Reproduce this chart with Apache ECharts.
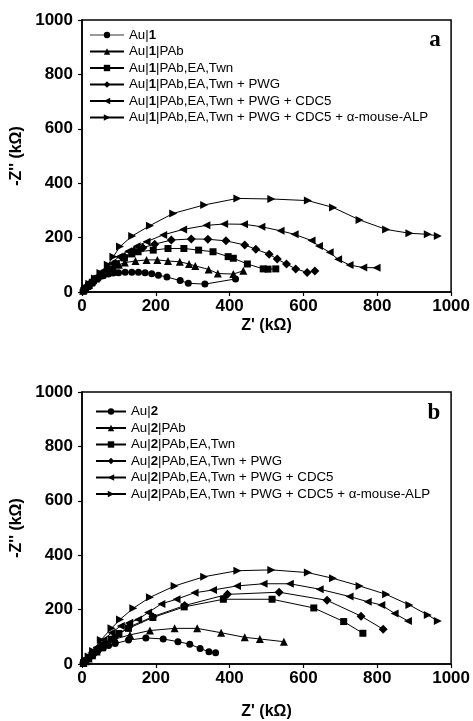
<!DOCTYPE html>
<html><head><meta charset="utf-8">
<script src="https://cdn.jsdelivr.net/npm/echarts@6/dist/echarts.min.js"></script>
<style>html,body{margin:0;padding:0;background:#fff}#c{width:473px;height:721px}</style>
</head><body><div id="c"></div>
<script>
// Axis settings (kΩ)
const axisMin = 0, axisMax = 1000, tickStep = 200;
const xTitle = "Z' (kΩ)";
const yTitle = "-Z'' (kΩ)";

// Legend names
const namesA = ["Au|1", "Au|1|PAb", "Au|1|PAb,EA,Twn", "Au|1|PAb,EA,Twn + PWG",
  "Au|1|PAb,EA,Twn + PWG + CDC5", "Au|1|PAb,EA,Twn + PWG + CDC5 + α-mouse-ALP"];
const namesB = ["Au|2", "Au|2|PAb", "Au|2|PAb,EA,Twn", "Au|2|PAb,EA,Twn + PWG",
  "Au|2|PAb,EA,Twn + PWG + CDC5", "Au|2|PAb,EA,Twn + PWG + CDC5 + α-mouse-ALP"];

// Panel a: [Z', -Z'']
const a1 = [[3,3],[6,8],[10,14],[16,22],[24,32],[33,42],[45,52],[58,60],[72,66],[85,70],[99,71],[117,73],[135,73],[153,73],[171,71],[189,67],[207,62],[230,55],[266,42],[288,32],[333,29],[416,48]];
const a2 = [[3,5],[8,12],[15,22],[25,35],[38,50],[52,65],[68,80],[85,92],[100,100],[116,108],[145,114],[175,118],[204,118],[233,114],[265,111],[290,103],[307,96],[343,83],[368,68],[410,66],[437,78]];
const a3 = [[5,6],[10,14],[18,24],[28,36],[40,50],[55,66],[72,84],[92,104],[115,125],[135,140],[152,148],[193,154],[233,160],[276,160],[316,154],[355,148],[396,130],[410,124],[448,103],[491,85],[504,84],[525,85]];
const a4 = [[5,8],[12,18],[22,30],[35,45],[50,62],[68,82],[90,105],[115,130],[140,150],[165,163],[197,176],[242,191],[296,195],[341,194],[390,188],[441,173],[471,157],[507,139],[529,121],[554,103],[579,85],[610,72],[631,77]];
const a5 = [[8,12],[18,25],[30,42],[45,60],[60,80],[80,105],[100,130],[125,150],[148,168],[175,185],[220,210],[274,230],[337,245],[385,250],[439,249],[486,240],[538,225],[576,212],[622,189],[642,169],[671,146],[694,120],[725,99],[762,90],[798,89]];
const a6 = [[10,15],[20,30],[35,50],[50,70],[70,100],[85,130],[103,167],[136,206],[184,244],[247,289],[331,320],[421,344],[513,342],[612,336],[680,311],[752,265],[824,230],[887,216],[937,212],[964,206]];

// Panel b: [Z', -Z'']
const b1 = [[3,3],[7,8],[12,15],[20,25],[30,36],[42,48],[58,60],[72,68],[90,75],[126,88],[173,96],[220,92],[260,82],[292,73],[320,57],[344,45],[362,41]];
const b2 = [[4,4],[10,10],[18,20],[28,32],[40,46],[55,62],[72,78],[90,92],[130,107],[184,123],[251,131],[312,131],[377,115],[441,98],[482,92],[547,82]];
const b3 = [[4,5],[10,12],[18,22],[28,35],[40,50],[55,68],[79,91],[100,112],[126,131],[192,171],[277,210],[383,238],[515,238],[628,206],[709,156],[761,113]];
const b4 = [[5,6],[12,14],[22,26],[35,40],[50,58],[65,75],[88,98],[126,135],[192,174],[278,215],[394,256],[534,264],[664,234],[756,176],[816,128]];
const b5 = [[6,10],[14,22],[25,40],[40,62],[58,88],[80,115],[105,140],[128,152],[152,164],[179,189],[215,221],[256,238],[305,262],[355,272],[420,287],[492,295],[563,295],[644,275],[725,248],[774,229],[811,217],[847,186],[883,158]];
const b6 = [[8,12],[18,28],[30,48],[51,88],[80,131],[103,164],[139,205],[184,245],[251,287],[331,321],[421,343],[513,346],[612,336],[680,315],[752,287],[824,256],[887,217],[937,180],[964,158]];

const SANS = '"Liberation Sans", Arial, sans-serif';
const symbols = [
  ['circle', 7],
  ['triangle', 8],
  ['rect', 7],
  ['diamond', 9],
  ['path://M10,0L0,5L10,10Z', 8],
  ['path://M0,0L10,5L0,10Z', 8]
];

function mkSeries(names, datas, gi) {
  return datas.map((d, i) => ({
    name: names[i], type: 'line', xAxisIndex: gi, yAxisIndex: gi,
    data: d, symbol: symbols[i][0], symbolSize: symbols[i][1],
    showSymbol: true, animation: false, silent: true,
    lineStyle: { color: '#000', width: 1 },
    itemStyle: { color: '#000' }
  }));
}

const tickFmt = v => String(v);

function axisX(gi, gap) {
  return {
    type: 'value', gridIndex: gi, min: axisMin, max: axisMax, interval: tickStep,
    axisLine: { show: true, lineStyle: { color: '#000', width: 1.5 } },
    axisTick: { show: true, inside: false, length: 4, lineStyle: { color: '#000', width: 1.2 } },
    splitLine: { show: false },
    axisLabel: { color: '#000', fontWeight: 'bold', fontSize: 17, fontFamily: SANS, margin: 6, formatter: tickFmt, showMaxLabel: true, showMinLabel: true },
    name: xTitle, nameLocation: 'middle', nameGap: gap,
    nameTextStyle: { color: '#000', fontWeight: 'bold', fontSize: 16, fontFamily: SANS }
  };
}
function axisY(gi, gap) {
  return {
    type: 'value', gridIndex: gi, min: axisMin, max: axisMax, interval: tickStep,
    axisLine: { show: true, lineStyle: { color: '#000', width: 1.5 } },
    axisTick: { show: true, inside: false, length: 4, lineStyle: { color: '#000', width: 1.2 } },
    splitLine: { show: false },
    axisLabel: { color: '#000', fontWeight: 'bold', fontSize: 17, fontFamily: SANS, margin: 9, formatter: tickFmt },
    name: yTitle, nameLocation: 'middle', nameGap: gap, nameRotate: 90,
    nameTextStyle: { color: '#000', fontWeight: 'bold', fontSize: 16, fontFamily: SANS }
  };
}

function legendFmt(name) {
  const m = name.match(/^Au\|(\d)(.*)$/);
  return '{n|Au|}{b|' + m[1] + '}' + (m[2] ? '{n|' + m[2] + '}' : '');
}
function mkLegend(names, left, top, itemWidth, firstGray) {
  return {
    orient: 'vertical', left: left, top: top, itemWidth: itemWidth, itemHeight: 8,
    itemGap: 3.5, selectedMode: false, padding: 0,
    data: names.map((n, i) => (i === 0 && firstGray) ? { name: n, lineStyle: { color: '#999' } } : { name: n }),
    formatter: legendFmt,
    textStyle: {
      color: '#000', fontSize: 13, fontFamily: SANS, lineHeight: 13,
      rich: {
        n: { fontSize: 13.3, fontFamily: SANS, color: '#000' },
        b: { fontSize: 13.3, fontFamily: SANS, color: '#000', fontWeight: 'bold' }
      }
    }
  };
}

const chart = echarts.init(document.getElementById('c'), null, { renderer: 'canvas' });
chart.setOption({
  backgroundColor: '#fff',
  animation: false,
  grid: [
    { left: 82, right: 21, top: 20, height: 272, show: true, borderColor: '#000', borderWidth: 1.5, backgroundColor: 'transparent' },
    { left: 82, right: 21, top: 392, height: 272, show: true, borderColor: '#000', borderWidth: 1.5, backgroundColor: 'transparent' }
  ],
  xAxis: [axisX(0, 26), axisX(1, 40)],
  yAxis: [axisY(0, 47), axisY(1, 50)],
  legend: [mkLegend(namesA, 89, 28.5, 34, true), mkLegend(namesB, 95, 405, 30, false)],
  graphic: [
    { type: 'text', x: 435, y: 40, style: { text: 'a', font: 'bold 23px "Liberation Serif", "DejaVu Serif", serif', fill: '#000', align: 'center', verticalAlign: 'middle' } },
    { type: 'text', x: 434, y: 413, style: { text: 'b', font: 'bold 23px "Liberation Serif", "DejaVu Serif", serif', fill: '#000', align: 'center', verticalAlign: 'middle' } }
  ],
  series: mkSeries(namesA, [a1, a2, a3, a4, a5, a6], 0).concat(mkSeries(namesB, [b1, b2, b3, b4, b5, b6], 1))
});
</script>
</body></html>
